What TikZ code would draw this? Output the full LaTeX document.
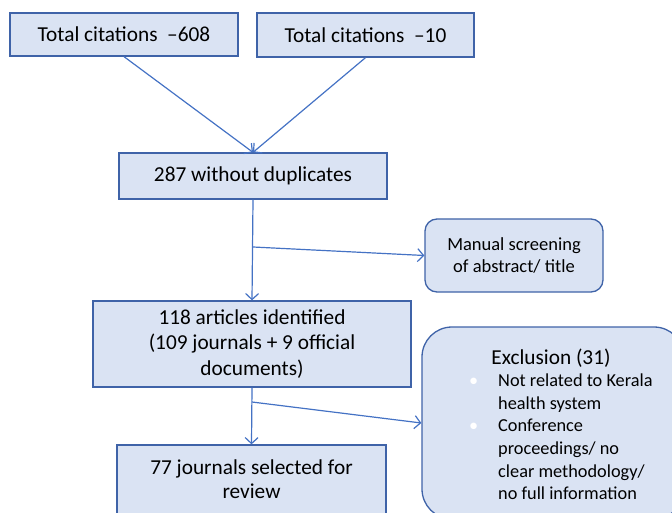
\documentclass[tikz,border=0pt]{standalone}
\usepackage{fontspec}
\setmainfont{Carlito}
\usetikzlibrary{arrows.meta}
\definecolor{boxfill}{HTML}{DAE3F3}
\definecolor{boxline}{HTML}{3F63A8}
\definecolor{arrowc}{HTML}{4472C4}
\tikzset{
  bigfont/.style={font=\fontsize{21.3}{25.7}\selectfont},
  flowbox/.style={draw=boxline, fill=boxfill, line width=1.3pt, align=center, inner sep=0pt, bigfont},
  roundbox/.style={flowbox, rounded corners=12pt},
  conn/.style={draw=arrowc, line width=1.2pt, -{Straight Barb[length=6pt,width=13pt]}},
  plaintext/.style={inner sep=0pt, text=black}
}
\begin{document}
\begin{tikzpicture}[x=1pt,y=-1pt]
\useasboundingbox (0,0) rectangle (672,513);
\node[flowbox, minimum width=228pt, minimum height=43pt] (b1) at (124,34.5) {Total citations \ –608};
\node[flowbox, minimum width=217pt, minimum height=44pt] (b2) at (365.5,35) {Total citations \ –10};
\node[flowbox, minimum width=268pt, minimum height=46pt] (b3) at (253,176) {287 without duplicates};
\node[roundbox, minimum width=178pt, minimum height=73pt, font=\fontsize{18.5}{22}\selectfont] (scr) at (514,255.5) {Manual screening\\of abstract/ title};
\node[flowbox, minimum width=318pt, minimum height=86pt] (b4) at (252,344) {118 articles identified\\(109 journals + 9 official\\documents)};
\node[flowbox, rounded corners=30pt, minimum width=262pt, minimum height=192pt] (excl) at (553,423) {};
\node[plaintext, anchor=base, bigfont] (exclhead) at (551,364) {Exclusion (31)};
\node[plaintext, anchor=base west, align=left, font=\fontsize{18.3}{22.6}\selectfont] (excllist) at (498,499.7) {%
\llap{\textcolor{white}{\textbullet}\hspace{20pt}}Not related to Kerala\\
health system\\
\llap{\textcolor{white}{\textbullet}\hspace{20pt}}Conference\\
proceedings/ no\\
clear methodology/\\
no full information};
\node[flowbox, minimum width=269pt, minimum height=90pt] (b5) at (251.5,490) {};
\node[plaintext, anchor=base, align=center, font=\fontsize{21.3}{24}\selectfont] (b5text) at (251.5,498) {77 journals selected for\\review};
\coordinate (j1) at (253,247);
\coordinate (j2) at (252,402);
\draw[conn] (b1.south) -- (b3.north);
\draw[conn] (b2.south) -- (b3.north);
\draw[conn] (b3.south) -- (b4.north);
\draw[conn] (j1) -- (scr.west);
\draw[conn] (b4.south) -- (b5.north);
\draw[conn] (j2) -- (excl.west);
\end{tikzpicture}
\end{document}
